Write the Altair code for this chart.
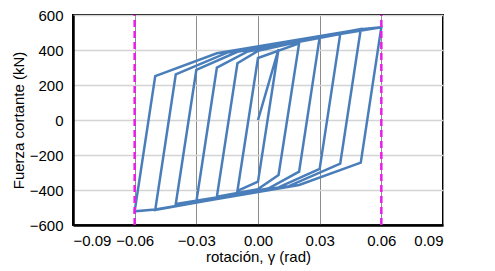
import altair as alt
import pandas as pd

# hysteresis path (rotation in rad, shear force in kN), in drawing order
rot = [0.0, 0.01, 0.0, -0.01, 0.0, 0.02,
       0.01, 0.0, -0.02, -0.01, 0.0, 0.03,
       0.02, 0.005, -0.03, -0.02, -0.005, 0.04,
       0.03, 0.01, -0.04, -0.03, -0.01, 0.05,
       0.04, 0.015, -0.05, -0.04, -0.015, 0.06,
       0.05, 0.02, -0.05, -0.06, -0.05, -0.02, 0.05, 0.06]
force = [0, 405, -352, -405, 354, 438,
         -314, -395, -438, 324, 395, 472,
         -295, -392, -467, 299, 392, 491,
         -280, -385, -480, 286, 390, 520,
         -250, -378, -514, 261, 385, 530,
         -244, -371, -512, -522, 251, 381, 518, 530]

limits = [-0.06, 0.06]
x_ticks = [-0.09, -0.06, -0.03, 0.0, 0.03, 0.06, 0.09]
y_ticks = [-600, -400, -200, 0, 200, 400, 600]

df = pd.DataFrame({"rot": rot, "force": force, "order": list(range(len(rot)))})
lim_df = pd.DataFrame({"x": limits, "y": [-600, -600], "y2": [600, 600]})

xscale = alt.Scale(domain=[-0.09, 0.09], nice=False, zero=False)
yscale = alt.Scale(domain=[-600, 600], nice=False, zero=False)


def xaxis():
    return alt.Axis(values=x_ticks, format=".2f", title="rotación, γ (rad)",
                    grid=True, gridColor="#8C8C8C", gridWidth=1,
                    domainColor="#000", domainWidth=2.5, tickSize=0,
                    labelPadding=8, titlePadding=1, labelOverlap=False)


def yaxis():
    return alt.Axis(values=y_ticks, title="Fuerza cortante (kN)",
                    grid=True, gridColor="#D4D4D4", gridWidth=1.5,
                    domainColor="#000", domainWidth=2.5, tickSize=0,
                    labelPadding=10, titlePadding=3, labelOverlap=False)


lines = alt.Chart(df).mark_line(color="#4A7EBB", strokeWidth=2.5, clip=True).encode(
    x=alt.X("rot:Q", scale=xscale, axis=xaxis()),
    y=alt.Y("force:Q", scale=yscale, axis=yaxis()),
    order="order:Q",
)

rules = alt.Chart(lim_df).mark_rule(color="#E81EE8", strokeWidth=2.5, strokeDash=[7, 4]).encode(
    x=alt.X("x:Q", scale=xscale, axis=xaxis()),
    y=alt.Y("y:Q", scale=yscale, axis=yaxis()),
    y2="y2:Q",
)

chart = alt.layer(lines, rules).properties(
    width=370, height=210,
    autosize=alt.AutoSizeParams(type="none"),
    padding={"left": 65, "top": 7, "right": 44, "bottom": 46},
    background="white",
).configure_view(
    stroke="#000", strokeWidth=2
).configure_axis(
    labelFont="Liberation Sans", titleFont="Liberation Sans",
    labelFontSize=15, titleFontSize=15, titleFontWeight="normal",
    labelColor="#000", titleColor="#000",
)

chart.save("out.html", embed_options={"renderer": "svg", "actions": False})
